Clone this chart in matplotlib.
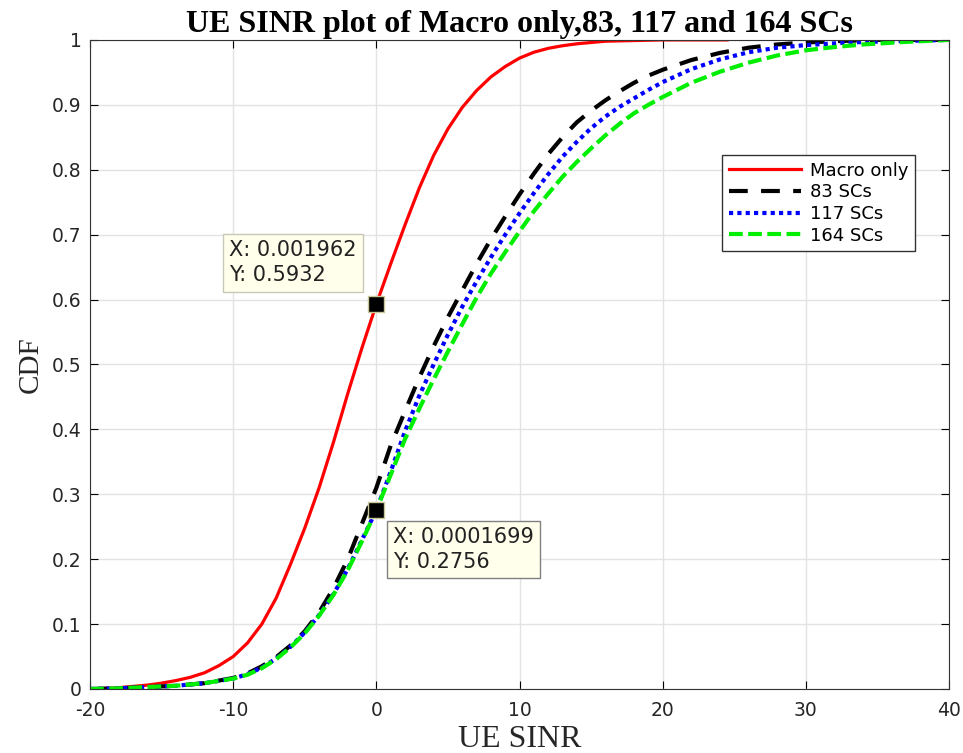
import matplotlib
matplotlib.use('AGG')
import matplotlib.pyplot as plt

plt.rcParams['axes.unicode_minus'] = False

# CDF curves
macro_x = [-20, -19, -18, -17, -16, -15, -14, -13, -12, -11, -10, -9, -8, -7, -6, -5, -4, -3, -2, -1, 0,
           1, 2, 3, 4, 5, 6, 7, 8, 9, 10, 11, 12, 13, 14, 15, 16, 18, 20, 24.5]
macro_y = [0.0, 0.001, 0.002, 0.004, 0.006, 0.009, 0.013, 0.018, 0.025, 0.036, 0.05, 0.071, 0.1, 0.14,
           0.192, 0.248, 0.31, 0.38, 0.455, 0.526, 0.593, 0.655, 0.715, 0.772, 0.822, 0.863, 0.896,
           0.922, 0.943, 0.959, 0.972, 0.981, 0.987, 0.991, 0.994, 0.996, 0.998, 0.999, 1.0, 1.0]

sc83_x = [-20, -18, -16, -14, -12, -10, -9, -8, -7, -6, -5, -4, -3, -2, -1, 0, 1, 2, 3, 4, 5, 6, 7, 8, 9,
          10, 11, 12, 13, 14, 15, 16, 17, 18, 19, 20, 22, 24, 26, 28, 30, 32, 35, 40]
sc83_y = [0.0, 0.001, 0.003, 0.005, 0.009, 0.017, 0.024, 0.035, 0.049, 0.067, 0.089, 0.118, 0.155, 0.2,
          0.255, 0.31, 0.375, 0.428, 0.48, 0.528, 0.573, 0.614, 0.655, 0.693, 0.728, 0.762, 0.794,
          0.824, 0.85, 0.873, 0.891, 0.907, 0.921, 0.934, 0.945, 0.954, 0.969, 0.98, 0.988, 0.993,
          0.996, 0.998, 1.0, 1.0]

sc117_x = [-20, -18, -16, -14, -12, -10, -9, -8, -7, -6, -5, -4, -3, -2, -1, 0, 1, 2, 3, 4, 5, 6, 7, 8, 9,
           10, 11, 12, 13, 14, 15, 16, 17, 18, 19, 20, 22, 24, 26, 28, 30, 33, 36, 40]
sc117_y = [0.0, 0.001, 0.003, 0.005, 0.009, 0.016, 0.023, 0.033, 0.047, 0.065, 0.087, 0.114, 0.146, 0.185,
           0.23, 0.2756, 0.335, 0.397, 0.452, 0.5, 0.546, 0.589, 0.628, 0.665, 0.7, 0.733, 0.764, 0.793,
           0.82, 0.843, 0.864, 0.882, 0.897, 0.91, 0.923, 0.935, 0.955, 0.97, 0.981, 0.988, 0.992,
           0.996, 0.998, 1.0]

sc164_x = [-20, -18, -16, -14, -12, -10, -9, -8, -7, -6, -5, -4, -3, -2, -1, 0, 1, 2, 3, 4, 5, 6, 7, 8, 9,
           10, 11, 12, 13, 14, 15, 16, 17, 18, 19, 20, 22, 24, 26, 28, 30, 32, 34, 37, 40]
sc164_y = [0.0, 0.001, 0.003, 0.005, 0.009, 0.016, 0.022, 0.032, 0.046, 0.064, 0.086, 0.113, 0.145, 0.183,
           0.228, 0.2756, 0.33, 0.385, 0.432, 0.477, 0.52, 0.562, 0.603, 0.64, 0.673, 0.705, 0.736,
           0.763, 0.789, 0.812, 0.833, 0.853, 0.871, 0.887, 0.9, 0.912, 0.934, 0.951, 0.965, 0.976,
           0.984, 0.989, 0.993, 0.997, 1.0]

labels = ['Macro only', '83 SCs', '117 SCs', '164 SCs']

# data tips
tip1 = (0.001962, 0.5932)
tip2 = (0.0001699, 0.2756)

fig = plt.figure(figsize=(9.63, 7.53), dpi=100)
ax = fig.add_axes([0.0935, 0.085, 0.892, 0.862])

ax.plot(macro_x, macro_y, color='red', lw=2.3, label=labels[0])
ax.plot(sc83_x, sc83_y, color='black', lw=3, dashes=(4.5, 3.2), label=labels[1])
ax.plot(sc117_x, sc117_y, color='blue', lw=3, dashes=(1, 1), label=labels[2])
ax.plot(sc164_x, sc164_y, color='#00ee00', lw=3, dashes=(3.3, 1.3), label=labels[3])

# data tip markers and boxes
for (tx, ty) in (tip1, tip2):
    ax.plot(tx, ty, 's', color='black', markersize=11, markeredgecolor='#c8c89a',
            markeredgewidth=1, zorder=5)
tipbox = dict(boxstyle='square,pad=0.3', fc='#ffffeb', ec='#c8c8b8', lw=1)
ax.text(-10.3, 0.691, 'X: 0.001962\nY: 0.5932', fontsize=15, family='DejaVu Sans',
        va='top', ha='left', bbox=tipbox, color='#222222', linespacing=1.3, zorder=6)
ax.text(1.15, 0.249, 'X: 0.0001699\nY: 0.2756', fontsize=15, family='DejaVu Sans',
        va='top', ha='left', bbox=dict(tipbox, ec='#808080'), color='#222222',
        linespacing=1.3, zorder=6)

ax.set_xlim(-20, 40)
ax.set_ylim(0, 1)
ax.set_xticks(range(-20, 41, 10))
ax.set_yticks([i / 10 for i in range(11)])
ax.set_yticklabels(['0', '0.1', '0.2', '0.3', '0.4', '0.5', '0.6', '0.7', '0.8', '0.9', '1'])
ax.grid(True, color='#e3e3e3', lw=1)
ax.set_axisbelow(True)
ax.tick_params(direction='in', top=True, right=True, labelsize=13.5, length=6, width=0.8,
               labelcolor='#262626')
ax.tick_params(axis='x', pad=9)
ax.tick_params(axis='y', pad=6)
for lab in ax.get_xticklabels() + ax.get_yticklabels():
    lab.set_family('DejaVu Sans')
for s in ax.spines.values():
    s.set_color('#333333')

ax.set_xlabel('UE SINR', family='Liberation Serif', fontsize=23, labelpad=3, color='#262626')
ax.set_ylabel('CDF', family='Liberation Serif', fontsize=21, labelpad=6, color='#262626')
ax.set_title('UE SINR plot of Macro only,83, 117 and 164 SCs', family='Liberation Serif',
             fontweight='bold', fontsize=23, pad=6)

leg = ax.legend(loc='upper left', bbox_to_anchor=(0.736, 0.822),
                prop={'family': 'DejaVu Sans', 'size': 13},
                fancybox=False, edgecolor='#333333', framealpha=1, handlelength=4.0,
                borderpad=0.35, labelspacing=0.2, handletextpad=0.5, borderaxespad=0)
leg.get_frame().set_linewidth(1)

fig.savefig('out.png', dpi=100)
plt.close(fig)
